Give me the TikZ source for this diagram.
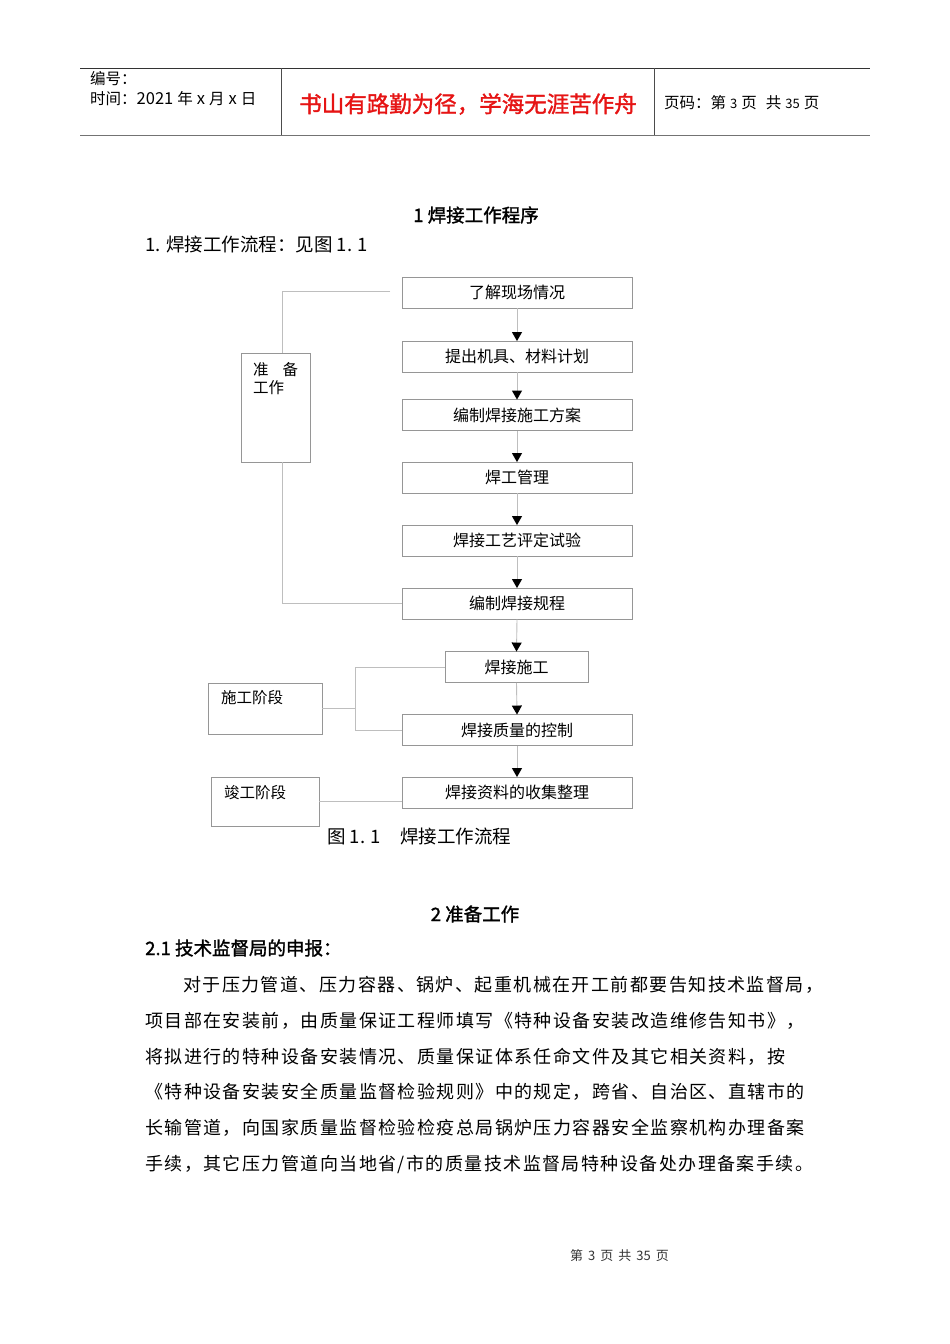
\documentclass[tikz,border=0pt]{standalone}
\usepackage{fontspec}
\usetikzlibrary{arrows.meta}
\setmainfont{Noto Sans CJK SC}
\newfontfamily\cjk{Noto Sans CJK SC}
\newfontfamily\cjkb[FakeBold=1.5]{Noto Sans CJK SC}
\newfontfamily\cjkbody[LetterSpace=8]{Noto Sans CJK SC}
\definecolor{boxgray}{RGB}{150,150,150}
\definecolor{linegray}{RGB}{190,190,190}
\definecolor{redtitle}{RGB}{230,20,20}
\tikzset{
  flowbox/.style={draw=boxgray, line width=0.9pt, minimum height=31pt, inner sep=0pt, font=\cjk\fontsize{16}{18}\selectfont},
  sidebox/.style={draw=boxgray, line width=0.9pt, inner sep=0pt},
  sidetext/.style={anchor=north west, inner sep=0pt, font=\cjk\fontsize{15.5}{18}\selectfont, align=left},
  conn/.style={draw=linegray, line width=0.9pt},
  flowarrow/.style={draw=linegray, line width=0.9pt, -{Triangle[width=10pt,length=9pt,color=black]}, shorten >=-0.5pt},
  hdr/.style={anchor=west, inner sep=0pt, font=\cjk\fontsize{15.5}{17}\selectfont},
  bodyline/.style={anchor=west, inner sep=0pt, font=\cjkbody\fontsize{18}{20}\selectfont}
}
\begin{document}
\begin{tikzpicture}[x=1pt,y=-1pt]
\useasboundingbox (0,0) rectangle (950,1344);
\fill[white] (0,0) rectangle (950,1344);
% header
\coordinate (hl1) at (80,68);
\coordinate (hr1) at (870,68);
\coordinate (hl2) at (80,135.5);
\coordinate (hr2) at (870,135.5);
\draw[line width=0.9pt, black!80] (hl1) -- (hr1);
\draw[line width=1.8pt, black!55] (hl2) -- (hr2);
\coordinate (v1a) at (281,68); \coordinate (v1b) at (281,135);
\coordinate (v2a) at (654,68); \coordinate (v2b) at (654,135);
\draw[line width=0.9pt, black!70] (v1a) -- (v1b);
\draw[line width=0.9pt, black!70] (v2a) -- (v2b);
\node[hdr] (hno) at (90,79) {编号：};
\node[hdr] (htime) at (90,99) {时间：{\fontsize{16.5}{17}\selectfont 2021}\hspace{4pt}年\hspace{4pt}{\fontsize{16.5}{17}\selectfont x}\hspace{4pt}月\hspace{4pt}{\fontsize{16.5}{17}\selectfont x}\hspace{4pt}日};
\node[anchor=center, inner sep=0pt, text=redtitle, font=\cjkb\fontsize{22.5}{24}\selectfont] (hred) at (468,104) {书山有路勤为径，学海无涯苦作舟};
\node[hdr] (hpage) at (664,103) {页码：第\hspace{4pt}{\fontsize{13}{15}\selectfont 3}\hspace{4pt}页\hspace{9pt}共\hspace{4pt}{\fontsize{13}{15}\selectfont 35}\hspace{4pt}页};
% title
\node[inner sep=0pt, font=\cjkb\fontsize{18.5}{20}\selectfont] (t1) at (476,215) {1 焊接工作程序};
\node[anchor=west, inner sep=0pt, font=\cjk\fontsize{18.5}{20}\selectfont] (t2) at (145,245) {1. 焊接工作流程：见图 1. 1};
% flow boxes
\node[flowbox, minimum width=230pt] (b1) at (517,292.5) {了解现场情况};
\node[flowbox, minimum width=230pt] (b2) at (517,356.5) {提出机具、材料计划};
\node[flowbox, minimum width=230pt] (b3) at (517,415) {编制焊接施工方案};
\node[flowbox, minimum width=230pt] (b4) at (517,477.5) {焊工管理};
\node[flowbox, minimum width=230pt] (b5) at (517,540.5) {焊接工艺评定试验};
\node[flowbox, minimum width=230pt] (b6) at (517,603.5) {编制焊接规程};
\node[flowbox, minimum width=143pt] (b7) at (516.5,667) {焊接施工};
\node[flowbox, minimum width=230pt] (b8) at (517,730) {焊接质量的控制};
\node[flowbox, minimum width=230pt] (b9) at (517,792.5) {焊接资料的收集整理};
\draw[flowarrow] (b1.south) -- (b2.north);
\draw[flowarrow] (b2.south) -- (b3.north);
\draw[flowarrow] (b3.south) -- (b4.north);
\draw[flowarrow] (b4.south) -- (b5.north);
\draw[flowarrow] (b5.south) -- (b6.north);
\draw[flowarrow] (b6.south) -- (b7.north);
\draw[flowarrow] (b7.south) -- (b8.north);
\draw[flowarrow] (b8.south) -- (b9.north);
% side boxes
\node[sidebox, minimum width=69pt, minimum height=109pt] (prep) at (275.5,407.5) {};
\node[sidetext] (preptxt) at (253,362) {准\hspace{14pt}备\\工作};
\node[sidebox, minimum width=114pt, minimum height=51pt] (cons) at (265,708.5) {};
\node[sidetext] (constxt) at (221,690) {施工阶段};
\node[sidebox, minimum width=108pt, minimum height=49pt] (comp) at (265,801.5) {};
\node[sidetext] (comptxt) at (224,785) {竣工阶段};
% side connectors
\coordinate (c1) at (390,291);
\coordinate (pj) at (282,0);
\draw[conn] (c1) -| (pj |- prep.north);
\draw[conn] (pj |- prep.south) |- (b6.west);
\coordinate (sj) at (355,0);
\draw[conn] (cons.east) -- (sj |- cons.east);
\draw[conn] (b7.west) -| (sj |- b8.west) -- (b8.west);
\draw[conn] (comp.east) -- (b9.west |- comp.east);
% caption
\node[anchor=west, inner sep=0pt, font=\cjk\fontsize{18.5}{20}\selectfont] (cap) at (327,836) {图 1. 1\hspace{19pt}焊接工作流程};
% section 2
\node[inner sep=0pt, font=\cjkb\fontsize{18.5}{20}\selectfont] (s2) at (475,914) {2 准备工作};
\node[anchor=west, inner sep=0pt, font=\cjkb\fontsize{18.5}{20}\selectfont] (s21) at (145,948) {2.1 技术监督局的申报：};
\node[bodyline] (p1) at (183,985) {对于压力管道、压力容器、锅炉、起重机械在开工前都要告知技术监督局，};
\node[bodyline] (p2) at (145,1021) {项目部在安装前，由质量保证工程师填写《特种设备安装改造维修告知书》，};
\node[bodyline] (p3) at (145,1057) {将拟进行的特种设备安装情况、质量保证体系任命文件及其它相关资料，按};
\node[bodyline] (p4) at (145,1092) {《特种设备安装安全质量监督检验规则》中的规定，跨省、自治区、直辖市的};
\node[bodyline] (p5) at (145,1128) {长输管道，向国家质量监督检验检疫总局锅炉压力容器安全监察机构办理备案};
\node[bodyline] (p6) at (145,1164) {手续，其它压力管道向当地省/市的质量技术监督局特种设备处办理备案手续。};
% footer
\node[inner sep=0pt, text=black!80, font=\cjk\fontsize{13}{15}\selectfont] (foot) at (619.5,1256) {第\hspace{5pt}3\hspace{5pt}页\hspace{5pt}共\hspace{5pt}35\hspace{5pt}页};
\end{tikzpicture}
\end{document}
